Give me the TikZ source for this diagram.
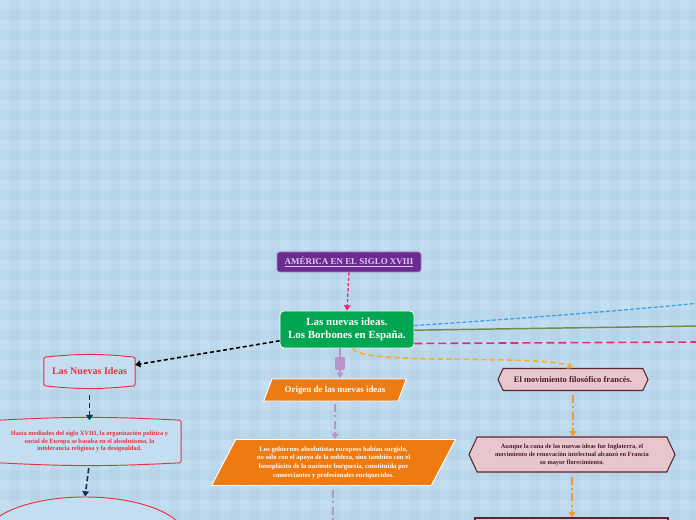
\documentclass[tikz,border=0pt]{standalone}
\usepackage{fontspec}
\setmainfont{Liberation Serif}
\usetikzlibrary{arrows.meta,shapes.geometric,shapes.symbols,backgrounds}
\definecolor{bgBlue}{HTML}{C4DEF1}
\definecolor{bgBand}{HTML}{9FC0DA}
\definecolor{amerPurple}{HTML}{6B2C91}
\definecolor{amerText}{HTML}{DCC8F0}
\definecolor{borbGreen}{HTML}{00A651}
\definecolor{ideaRed}{HTML}{E5323E}
\definecolor{ideaNavy}{HTML}{1B2A55}
\definecolor{origOrange}{HTML}{EE7A12}
\definecolor{origLink}{HTML}{B894CC}
\definecolor{movPink}{HTML}{E8C7CC}
\definecolor{movLine}{HTML}{5B2434}
\definecolor{movText}{HTML}{4A1A28}
\definecolor{movLink}{HTML}{F09A30}
\definecolor{linkPink}{HTML}{E0306C}
\definecolor{linkBlue}{HTML}{3EA6E6}
\definecolor{linkOlive}{HTML}{6E8C4A}
\definecolor{linkYellow}{HTML}{F4B020}

\begin{document}
\begin{tikzpicture}[
  x=0.75pt, y=-0.75pt,
  >={Triangle[width=5pt,length=4pt]},
  every node/.style={font=\bfseries, align=center, inner sep=1pt},
  amerbox/.style={fill=amerPurple, draw=amerPurple!60!white, rounded corners=2pt,
    text=amerText, font=\bfseries\fontsize{6.7}{8}\selectfont,
    minimum width=108pt, minimum height=15pt},
  borbbox/.style={fill=borbGreen, draw=white, line width=0.6pt, rounded corners=3pt,
    text=white, font=\bfseries\fontsize{8.2}{10.3}\selectfont,
    minimum width=100.5pt, minimum height=27.75pt},
  ideatext/.style={text=ideaRed},
  ideaedge/.style={fill=bgBlue, draw=ideaRed, line width=0.7pt, rounded corners=1pt},
  origbox/.style={shape=trapezium, trapezium left angle=58, trapezium right angle=122,
    trapezium stretches=true, fill=origOrange, draw=white, line width=0.7pt, text=white},
  movbox/.style={shape=signal, signal to=west and east, signal pointer angle=130,
    fill=movPink, draw=movLine, line width=0.8pt, text=movText},
  pinkLink/.style={->, linkPink, line width=1pt, dash pattern=on 2.5pt off 1.5pt},
  blackLink/.style={->, black, line width=1.2pt, dash pattern=on 3pt off 2pt},
  navyLink/.style={->, ideaNavy, line width=1.2pt, dash pattern=on 4pt off 2pt},
  purLink/.style={origLink, line width=1.2pt, dash pattern=on 6pt off 2.5pt on 1.5pt off 2.5pt},
  ornLink/.style={->, movLink, line width=1.2pt, dash pattern=on 6pt off 2.5pt on 1.5pt off 2.5pt}
]
  \useasboundingbox (0,0) rectangle (696,520);

  % Plaid background
  \begin{scope}[on background layer]
    \fill[bgBlue] (0,0) rectangle (696,520);
    \foreach \x in {10,30,...,690}
      \fill[bgBand, opacity=0.2] (\x,0) rectangle ++(10,520);
    \foreach \y in {10,30,...,510}
      \fill[bgBand, opacity=0.2] (0,\y) rectangle ++(696,10);
  \end{scope}

  % Central topics
  \node[amerbox] (amer) at (349,262) {\underline{AMÉRICA EN EL SIGLO XVIII}};
  \node[borbbox] (borb) at (347,329.5) {Las nuevas ideas.\\Los Borbones en España.};
  \draw[pinkLink] (amer.south) -- (borb.north);

  % Branches leaving the picture on the right
  \coordinate (eBlue) at (700,303);
  \coordinate (eOlive) at (700,326);
  \coordinate (eMag) at (700,342);
  \draw[linkBlue, line width=1pt, dash pattern=on 3pt off 1.5pt]
    ([yshift=3pt]borb.east) .. controls (500,320) and (620,311) .. (eBlue);
  \draw[linkOlive, line width=1.1pt] ([yshift=-0.5pt]borb.east) -- (eOlive);
  \draw[linkPink, line width=1.2pt, dash pattern=on 6pt off 3pt]
    ([yshift=-10.5pt]borb.east) -- (eMag);

  % Left branch: Las Nuevas Ideas
  \node[ideatext, font=\bfseries\fontsize{7.55}{9}\selectfont,
    minimum width=68pt, minimum height=21pt] (lni) at (89.5,371.5) {Las Nuevas Ideas};
  \node[ideatext, font=\bfseries\fontsize{4.8}{5.6}\selectfont,
    minimum width=137pt, minimum height=31.5pt] (hasta) at (89.5,441.5)
    {Hasta mediados del siglo XVIII, la organización política y\\
     social de Europa se basaba en el absolutismo, la\\
     intolerancia religiosa y la desigualdad.};
  \node[shape=ellipse, fill=bgBlue, draw=ideaRed, line width=0.7pt,
    minimum width=150pt, minimum height=60pt] (ell) at (85,537) {};
  \begin{scope}[on background layer]
    \path[ideaedge] (lni.north west) to[bend left=6] (lni.north east)
      -- (lni.south east) to[bend left=6] (lni.south west) -- cycle;
    \path[ideaedge] (hasta.north west) to[bend left=3] (hasta.north east)
      -- (hasta.south east) to[bend left=3] (hasta.south west) -- cycle;
  \end{scope}
  \draw[blackLink] ([yshift=-8.5pt]borb.west) -- ([yshift=5pt]lni.east);
  \draw[navyLink, shorten <=7pt] (lni.south) -- (hasta.north);
  \draw[navyLink, shorten <=4pt] (hasta.south) -- (ell.north);

  % Middle branch: Origen de las nuevas ideas
  \node[fill=origLink, rounded corners=1pt, minimum width=7.5pt,
    minimum height=9.75pt, inner sep=0pt] (tog) at (340,363.5) {};
  \node[origbox, font=\bfseries\fontsize{6.7}{8}\selectfont,
    minimum width=108pt, minimum height=16.5pt] (orig) at (335,390)
    {Origen de las nuevas ideas};
  \node[origbox, trapezium left angle=61, trapezium right angle=119,
    font=\bfseries\fontsize{5}{6.5}\selectfont,
    minimum width=183pt, minimum height=34.5pt] (gob) at (333.5,462.5)
    {Los gobiernos absolutistas europeos habían surgido,\\
     no sólo con el apoyo de la nobleza, sino también con el\\
     beneplácito de la naciente burguesía, constituida por\\
     comerciantes y profesionales enriquecidos.};
  \coordinate (gEnd) at (333,525);
  \draw[origLink, line width=1.2pt] (borb.south -| tog.north) -- (tog.north);
  \draw[->, origLink, line width=1.2pt] (tog.south) -- ([yshift=0.5pt]orig.north -| tog.south);
  \draw[purLink, ->, shorten <=2pt] (orig.south) -- (orig.south |- gob.north);
  \draw[purLink, shorten <=3pt] (gob.south -| gEnd) -- (gEnd);

  % Right branch: El movimiento filosófico francés
  \node[movbox, font=\bfseries\fontsize{6.35}{7.5}\selectfont,
    minimum width=112.5pt, minimum height=16.5pt] (mov) at (573,379.5)
    {El movimiento filosófico francés.};
  \node[movbox, font=\bfseries\fontsize{4.75}{6}\selectfont,
    minimum width=154.5pt, minimum height=26.25pt] (aunq) at (572,454.5)
    {Aunque la cuna de las nuevas ideas fue Inglaterra, el\\
     movimiento de renovación intelectual alcanzó en Francia\\
     su mayor florecimiento.};
  \node[fill=movPink, draw=movLine, line width=0.8pt,
    minimum width=144.75pt, minimum height=18pt] (nxt) at (571.5,530) {};
  \draw[->, linkYellow, line width=1.2pt, dash pattern=on 4pt off 2.5pt]
    ([xshift=4.5pt]borb.south) .. controls (358,366) and (545,354) .. (mov.north);
  \draw[ornLink, shorten <=3pt] (mov.south) -- (mov.south |- aunq.north);
  \draw[ornLink, shorten <=3pt] (aunq.south) -- (aunq.south |- nxt.north);
\end{tikzpicture}
\end{document}
